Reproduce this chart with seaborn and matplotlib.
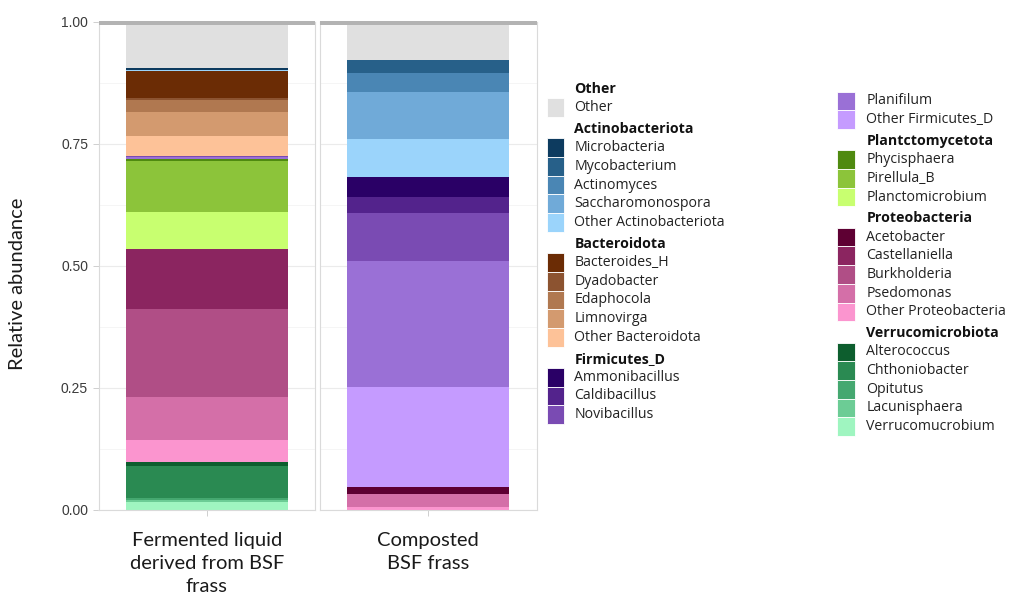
import matplotlib
matplotlib.use("Agg")
import matplotlib.pyplot as plt
import numpy as np
import pandas as pd
import seaborn as sns
from matplotlib.patches import Rectangle

# ---- data -------------------------------------------------------------
samples = ["Fermented liquid\nderived from BSF\nfrass", "Composted\nBSF frass"]

other_genera = ["Other"]
actino_genera = ["Microbacteria", "Mycobacterium", "Actinomyces",
                 "Saccharomonospora", "Other Actinobacteriota"]
bactero_genera = ["Bacteroides_H", "Dyadobacter", "Edaphocola",
                  "Limnovirga", "Other Bacteroidota"]
firmi_genera = ["Ammonibacillus", "Caldibacillus", "Novibacillus",
                "Planifilum", "Other Firmicutes_D"]
plancto_genera = ["Phycisphaera", "Pirellula_B", "Planctomicrobium"]
proteo_genera = ["Acetobacter", "Castellaniella", "Burkholderia",
                 "Psedomonas", "Other Proteobacteria"]
verruco_genera = ["Alterococcus", "Chthoniobacter", "Opitutus",
                  "Lacunisphaera", "Verrucomucrobium"]

phyla = ["Other", "Actinobacteriota", "Bacteroidota", "Firmicutes_D",
         "Plantctomycetota", "Proteobacteria", "Verrucomicrobiota"]
phylum_genera = [other_genera, actino_genera, bactero_genera, firmi_genera,
                 plancto_genera, proteo_genera, verruco_genera]
genera = [g for gens in phylum_genera for g in gens]

# relative abundance per genus, in the order of `genera`
fermented = [0.096,
             0.004, 0.000, 0.000, 0.000, 0.002,
             0.055, 0.004, 0.025, 0.048, 0.041,
             0.000, 0.000, 0.003, 0.003, 0.000,
             0.004, 0.106, 0.076,
             0.000, 0.123, 0.179, 0.089, 0.044,
             0.009, 0.066, 0.004, 0.004, 0.015]
composted = [0.078,
             0.000, 0.028, 0.039, 0.095, 0.078,
             0.000, 0.000, 0.000, 0.000, 0.000,
             0.041, 0.034, 0.097, 0.259, 0.204,
             0.000, 0.000, 0.000,
             0.015, 0.000, 0.000, 0.026, 0.006,
             0.000, 0.000, 0.000, 0.000, 0.000]

# fill colours, in the order of `genera`
genus_colors = ["#e0e0e0",
                "#0d3b5f", "#276089", "#4a86b4", "#70aad8", "#9bd4fb",
                "#6b2c05", "#8c5330", "#b07850", "#d39a6f", "#fdc298",
                "#2a0066", "#53238c", "#7a4bb3", "#9a70d6", "#c59bff",
                "#4f8a10", "#8cc43a", "#c8ff70",
                "#5e0033", "#8b2560", "#b04e86", "#d46fa8", "#fb95cf",
                "#0d5e2e", "#2a8a52", "#45a870", "#6ccc95", "#9ff5c0"]
palette = dict(zip(genera, genus_colors))

df = pd.DataFrame({
    "sample": np.repeat(samples, len(genera)),
    "genus": genera * len(samples),
    "abundance": fermented + composted,
})

# ---- figure -----------------------------------------------------------
sns.set_theme(style="white")
plt.rcParams["font.family"] = ["Liberation Sans", "DejaVu Sans"]

W, H = 1009, 597
fig = plt.figure(figsize=(W / 100, H / 100), dpi=100)


def fx(px):
    return px / W


def fy(py):
    return 1 - py / H


panel_top, panel_bot = 21.5, 509.5
panel_lefts = [98.5, 320.0]
panel_w = 216.5

for i, s in enumerate(samples):
    ax = fig.add_axes([fx(panel_lefts[i]), fy(panel_bot), fx(panel_w),
                       (panel_bot - panel_top) / H])
    sub = df[df["sample"] == s]
    sns.histplot(data=sub, x="sample", weights="abundance", hue="genus",
                 hue_order=genera, palette=palette, multiple="stack",
                 discrete=True, shrink=0.9, alpha=1, linewidth=0,
                 legend=False, ax=ax, zorder=2)
    ax.set_xlim(-0.6, 0.6)
    ax.set_ylim(0, 1)
    ax.set_yticks([0, 0.25, 0.5, 0.75, 1.0])
    ax.set_yticks([0.125, 0.375, 0.625, 0.875], minor=True)
    ax.set_xticks([0])
    ax.set_xticklabels([s], fontsize=14.5, family=["Lato", "DejaVu Sans"],
                       color="#1a1a1a", linespacing=1.45)
    ax.set_xlabel("")
    ax.set_ylabel("")
    ax.grid(True, axis="y", which="major", color="#ebebeb", lw=0.8, zorder=0)
    ax.grid(True, axis="y", which="minor", color="#f4f4f4", lw=0.6, zorder=0)
    ax.set_axisbelow(True)
    for sp in ax.spines.values():
        sp.set_color("#dadada")
        sp.set_linewidth(0.8)
    ax.tick_params(axis="both", which="major", length=4, width=0.6,
                   color="#c8c8c8", left=True, bottom=True)
    ax.tick_params(axis="x", pad=12)
    ax.tick_params(axis="y", which="minor", length=0)
    if i == 0:
        ax.set_yticklabels(["0.00", "0.25", "0.50", "0.75", "1.00"],
                           fontsize=10, color="#3a3a3a")
    else:
        ax.tick_params(axis="y", labelleft=False, left=False)
    # facet strip
    ax.add_patch(Rectangle((0, 0.9928), 1, 0.0088, transform=ax.transAxes,
                           facecolor="#b3b3b3", edgecolor="none",
                           clip_on=False, zorder=5))

fig.text(fx(18), fy(284), "Relative abundance",
         rotation=90, ha="center", va="center", fontsize=14.5,
         family=["Lato", "DejaVu Sans"], color="#1a1a1a")

# ---- grouped legend ---------------------------------------------------
legend_font = ["Open Sans", "DejaVu Sans"]
entries = []
for ph, gens in zip(phyla, phylum_genera):
    entries.append(("header", ph))
    for g in gens:
        entries.append(("item", g))
split = entries.index(("item", "Planifilum"))
columns = [(entries[:split], 546.5, 574.5, 89.0),
           (entries[split:], 837.0, 866.5, 101.0)]
row_step = 18.7
group_gap = 2.6
sw_w = 17.5

for col_entries, sw_x, tx, y0 in columns:
    y = y0
    for k, (kind, label) in enumerate(col_entries):
        if kind == "header":
            if k > 0:
                y += group_gap
            fig.text(fx(tx), fy(y), label, ha="left", va="center",
                     fontsize=10.2, fontweight="bold", family=legend_font,
                     color="#111111")
        else:
            fig.add_artist(Rectangle((fx(sw_x), fy(y + row_step / 2)),
                                     fx(sw_w), row_step / H,
                                     transform=fig.transFigure,
                                     facecolor=palette[label],
                                     edgecolor="white", linewidth=0.6))
            fig.text(fx(tx), fy(y), label, ha="left", va="center",
                     fontsize=10.2, family=legend_font, color="#222222")
        y += row_step

fig.savefig("out.png", dpi=100)
